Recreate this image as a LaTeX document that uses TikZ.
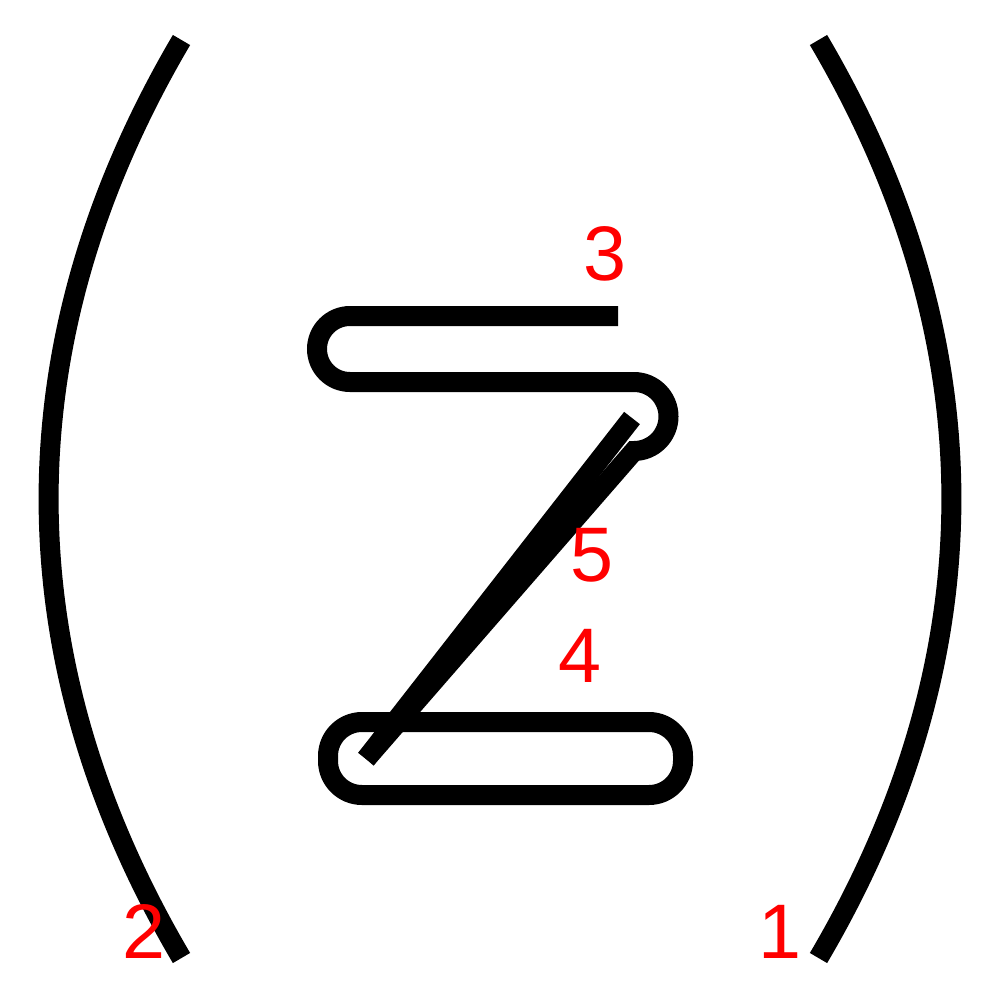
\documentclass[tikz,border=0pt]{standalone}
\usepackage{fontspec}
\setmainfont{Liberation Sans}
\usepackage{xcolor}
\usepackage{tikz}

\begin{document}
\begin{tikzpicture}[x=0.1mm,y=-0.1mm,
    pen/.style={line width=2mm,black},
    num/.style={text=red,inner sep=0pt,font=\fontsize{22}{26}\selectfont}]
            \useasboundingbox (0,0) rectangle (1000,1000);

            % brackets
            \draw[pen] (181.5,40) .. controls (4.3,341) and (4.3,657) .. (181.5,958);
            \draw[pen] (818.5,40) .. controls (995.7,341) and (995.7,657) .. (818.5,958);

            % the z
            \draw[pen] (618,316) -- (350,316) arc[start angle=270, end angle=90, radius=33]
                -- (634,382) arc[start angle=-90, end angle=90, radius=34.5] -- (366,759);
            \draw[pen] (632,418) -- (366,759);
            \draw[pen,rounded corners=3.4mm] (328,722) rectangle (683,795);

            \foreach \n/\x/\y in {1/780/932, 2/144/931, 3/605/254, 4/580/656, 5/592/555}
                \node[num] (l\n) at (\x,\y) {\n};
         \end{tikzpicture}
\end{document}
